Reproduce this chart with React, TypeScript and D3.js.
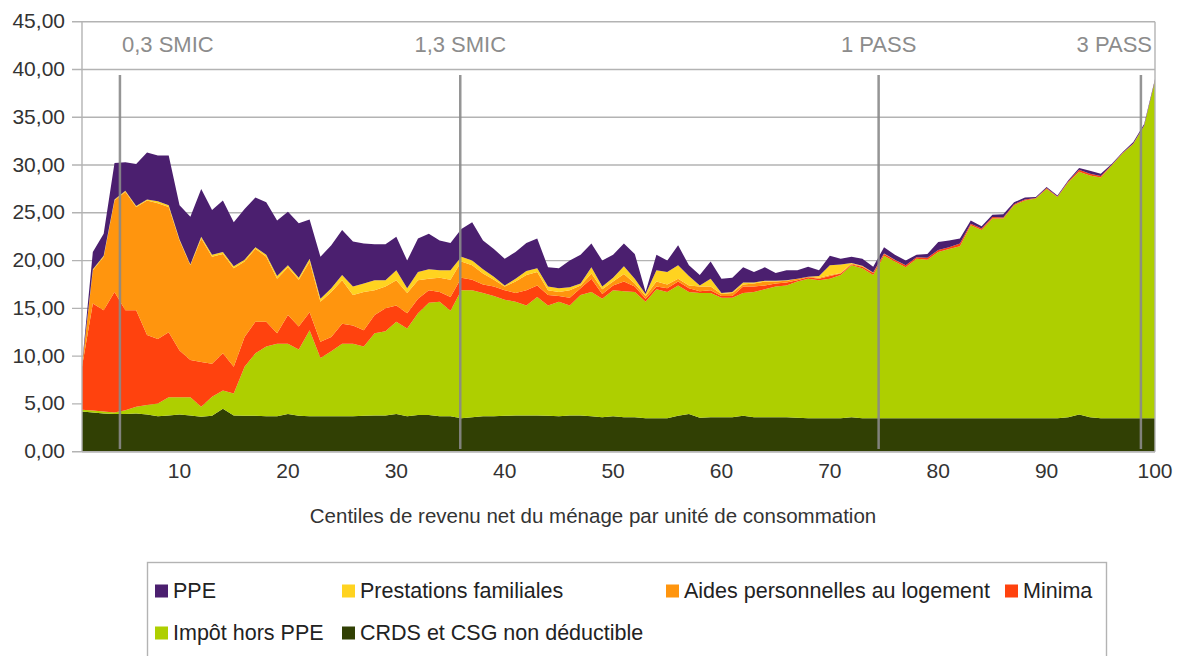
import React, { useRef, useEffect } from 'react';
import * as d3 from 'd3';

// centiles 1..100 on the x axis
const centiles = d3.range(1, 101);

const crds = [
  4.2, 4.1, 4.0, 3.95, 3.95, 4.0, 3.9, 3.7, 3.8, 3.9,
  3.8, 3.65, 3.75, 4.5, 3.8, 3.75, 3.75, 3.7, 3.7, 3.95,
  3.75, 3.7, 3.7, 3.7, 3.7, 3.7, 3.75, 3.8, 3.8, 3.95,
  3.7, 3.85, 3.85, 3.7, 3.7, 3.5, 3.6, 3.7, 3.7, 3.75,
  3.8, 3.8, 3.8, 3.75, 3.7, 3.8, 3.8, 3.7, 3.6, 3.7,
  3.6, 3.6, 3.5, 3.5, 3.5, 3.75, 3.95, 3.55, 3.6, 3.6,
  3.6, 3.75, 3.6, 3.6, 3.6, 3.6, 3.55, 3.5, 3.5, 3.5,
  3.5, 3.6, 3.5, 3.5, 3.5, 3.5, 3.5, 3.5, 3.5, 3.5,
  3.5, 3.5, 3.5, 3.5, 3.5, 3.5, 3.5, 3.5, 3.5, 3.5,
  3.5, 3.6, 3.9, 3.6, 3.5, 3.5, 3.5, 3.5, 3.5, 3.5,
];

const impot = [
  0.2, 0.2, 0.2, 0.15, 0.4, 0.7, 1.0, 1.35, 1.9, 1.8,
  1.9, 1.05, 2.0, 1.9, 2.3, 5.15, 6.55, 7.3, 7.6, 7.35,
  6.95, 9.0, 6.1, 6.8, 7.6, 7.6, 7.25, 8.6, 8.8, 9.65,
  9.2, 10.65, 11.75, 12.0, 11.05, 13.4, 13.3, 12.9, 12.6, 12.15,
  11.9, 11.5, 12.4, 11.55, 12.0, 11.5, 12.6, 13.0, 12.4, 13.2,
  13.2, 13.1, 12.2, 13.5, 13.2, 13.65, 12.75, 13.05, 13.0, 12.5,
  12.5, 12.85, 13.1, 13.4, 13.7, 13.8, 14.25, 14.6, 14.45, 14.6,
  15.0, 15.9, 15.7, 15.0, 17.0, 16.4, 15.8, 16.7, 16.6, 17.4,
  17.7, 18.0, 20.2, 19.7, 20.9, 20.9, 22.3, 22.8, 23.0, 24.0,
  23.15, 24.6, 25.4, 25.3, 25.2, 26.45, 27.7, 28.7, 30.6, 35.3,
];

const minima = [
  4.5, 11.2, 10.6, 12.6, 10.45, 10.1, 7.3, 6.75, 6.8, 4.9,
  3.9, 4.7, 3.45, 3.9, 2.8, 3.1, 3.3, 2.6, 1.1, 3.0,
  2.4, 1.9, 1.7, 1.5, 2.1, 1.9, 1.7, 1.9, 2.4, 1.7,
  1.6, 1.5, 1.3, 1.0, 1.45, 1.3, 1.1, 0.9, 1.0, 1.0,
  0.9, 1.6, 1.2, 1.1, 0.6, 0.8, 0.7, 1.4, 0.5, 0.5,
  1.0, 0.6, 0.3, 0.3, 0.4, 0.4, 0.4, 0.2, 0.3, 0.2,
  0.2, 0.7, 0.6, 0.4, 0.3, 0.3, 0.15, 0.15, 0.15, 0.3,
  0.15, 0.1, 0.15, 0.2, 0.2, 0.15, 0.2, 0.15, 0.2, 0.2,
  0.2, 0.3, 0.15, 0.15, 0.15, 0.1, 0.1, 0.1, 0.05, 0.1,
  0.05, 0.1, 0.2, 0.2, 0.15, 0.05, 0.05, 0.05, 0.05, 0.05,
];

const aides = [
  0.1, 3.5, 5.6, 9.6, 12.4, 10.8, 14.1, 14.2, 13.1, 11.5,
  9.9, 12.9, 11.2, 10.4, 10.3, 7.9, 7.65, 6.8, 5.7, 5.0,
  4.9, 5.3, 4.2, 4.7, 4.55, 3.2, 4.0, 2.6, 2.3, 2.65,
  2.1, 1.95, 1.2, 1.5, 1.8, 1.7, 1.5, 1.15, 0.7, 0.4,
  1.2, 1.6, 1.4, 0.5, 0.4, 0.8, 0.3, 0.55, 0.5, 0.4,
  0.8, 0.3, 0.3, 0.5, 0.4, 0.3, 0.3, 0.5, 0.4, 0.2,
  0.3, 0.2, 0.3, 0.4, 0.2, 0.2, 0.15, 0.05, 0.1, 0.1,
  0.05, 0.1, 0.05, 0.05, 0.05, 0.05, 0, 0, 0, 0,
  0, 0, 0, 0, 0, 0, 0, 0, 0, 0,
  0, 0, 0, 0, 0, 0, 0, 0, 0, 0,
];

const prestations = [
  0, 0.1, 0.1, 0.1, 0.1, 0.1, 0.1, 0.2, 0.2, 0.1,
  0.1, 0.2, 0.2, 0.2, 0.2, 0.2, 0.15, 0.2, 0.3, 0.2,
  0.2, 0.3, 0.3, 0.4, 0.55, 0.9, 0.9, 1.05, 0.65, 1.05,
  0.5, 0.85, 1.0, 0.8, 1.0, 0.5, 0.5, 0.45, 0.3, 0.1,
  0.3, 0.4, 0.4, 0.4, 0.4, 0.3, 0.2, 0.65, 0.3, 0.4,
  0.8, 0.5, 0.2, 1.2, 1.3, 1.4, 1.0, 0.1, 0.8, 0.1,
  0.1, 0.2, 0.1, 0.1, 0.1, 0.05, 0, 0, 0.2, 1.0,
  0.9, 0.05, 0.05, 0, 0, 0, 0, 0, 0, 0,
  0, 0, 0, 0, 0, 0, 0, 0, 0, 0,
  0, 0, 0, 0, 0, 0, 0, 0, 0, 0,
];

const ppe = [
  0.1, 1.8, 2.3, 3.8, 3.0, 4.4, 4.9, 4.8, 5.2, 3.6,
  5.0, 5.0, 4.7, 5.4, 4.6, 5.3, 5.2, 5.5, 5.8, 5.6,
  5.7, 4.1, 4.4, 4.5, 4.7, 4.7, 4.2, 3.75, 3.75, 3.5,
  2.9, 3.5, 3.7, 3.1, 2.85, 2.9, 4.0, 3.0, 2.9, 2.8,
  2.8, 2.95, 3.1, 2.0, 2.1, 2.8, 3.0, 2.5, 2.7, 2.4,
  2.4, 2.6, 0.2, 1.6, 1.2, 2.1, 1.1, 1.1, 1.8, 1.5,
  1.5, 1.6, 1.1, 1.4, 0.8, 1.05, 0.9, 1.05, 0.6, 1.0,
  0.6, 0.65, 0.75, 0.6, 0.65, 0.5, 0.5, 0.25, 0.4, 0.85,
  0.7, 0.5, 0.35, 0.25, 0.25, 0.35, 0.2, 0.2, 0.1, 0.1,
  0.1, 0.1, 0.2, 0.3, 0.25, 0.1, 0.1, 0.15, 0.15, 0.15,
];

// stacking order, bottom to top
const seriesKeys = ['crds', 'impot', 'minima', 'aides', 'prestations', 'ppe'];
const seriesNames = {
  ppe: 'PPE',
  prestations: 'Prestations familiales',
  aides: 'Aides personnelles au logement',
  minima: 'Minima',
  impot: 'Impôt hors PPE',
  crds: 'CRDS et CSG non déductible',
};
const seriesColors = {
  ppe: '#4b1f6f',
  prestations: '#ffd320',
  aides: '#ff950e',
  minima: '#ff420e',
  impot: '#aecf00',
  crds: '#314004',
};

const yTicks = [0, 5, 10, 15, 20, 25, 30, 35, 40, 45];
const xTicks = [10, 20, 30, 40, 50, 60, 70, 80, 90, 100];

const markerLabels = ['0,3 SMIC', '1,3 SMIC', '1 PASS', '3 PASS'];
const markerCentiles = [4.5, 35.9, 74.5, 98.7];

const legendRows = [
  ['ppe', 'prestations', 'aides', 'minima'],
  ['impot', 'crds'],
];

const FONT = '"Liberation Sans", Arial, sans-serif';

const App = () => {
  const svgRef = useRef(null);

  useEffect(() => {
    const svg = d3.select(svgRef.current);
    svg.selectAll('*').remove();

    const left = 82, right = 1155, top = 21.7, bottom = 451.7;

    const x = d3.scaleLinear().domain([1, 100]).range([left, right]);
    const y = d3.scaleLinear().domain([0, 45]).range([bottom, top]);

    const table = centiles.map((c, i) => ({
      c,
      crds: crds[i],
      impot: impot[i],
      minima: minima[i],
      aides: aides[i],
      prestations: prestations[i],
      ppe: ppe[i],
    }));

    const stacked = d3.stack().keys(seriesKeys)(table);

    // grid
    svg.append('g')
      .selectAll('line')
      .data(yTicks)
      .join('line')
      .attr('x1', left - 10)
      .attr('x2', right)
      .attr('y1', d => y(d))
      .attr('y2', d => y(d))
      .attr('stroke', '#b3b3b3')
      .attr('stroke-width', 1.4);

    // areas
    const area = d3.area()
      .x(d => x(d.data.c))
      .y0(d => y(d[0]))
      .y1(d => y(d[1]));

    svg.append('g')
      .selectAll('path')
      .data(stacked)
      .join('path')
      .attr('d', area)
      .attr('fill', d => seriesColors[d.key]);

    // frame
    svg.append('line')
      .attr('x1', left).attr('x2', left)
      .attr('y1', top).attr('y2', bottom)
      .attr('stroke', '#b3b3b3').attr('stroke-width', 1.4);
    svg.append('line')
      .attr('x1', right).attr('x2', right)
      .attr('y1', top).attr('y2', bottom)
      .attr('stroke', '#b3b3b3').attr('stroke-width', 1.4);
    svg.append('line')
      .attr('x1', left).attr('x2', right)
      .attr('y1', bottom).attr('y2', bottom)
      .attr('stroke', '#b3b3b3').attr('stroke-width', 1.4);

    // y labels
    svg.append('g')
      .selectAll('text')
      .data(yTicks)
      .join('text')
      .attr('x', 65)
      .attr('y', d => y(d) - 1)
      .attr('text-anchor', 'end')
      .attr('dominant-baseline', 'central')
      .attr('font-family', FONT)
      .attr('font-size', 21)
      .attr('fill', '#333')
      .text(d => d3.format('.2f')(d).replace('.', ','));

    // x labels
    svg.append('g')
      .selectAll('text')
      .data(xTicks)
      .join('text')
      .attr('x', d => x(d))
      .attr('y', 477.5)
      .attr('text-anchor', 'middle')
      .attr('font-family', FONT)
      .attr('font-size', 21)
      .attr('fill', '#333')
      .text(d => d);

    svg.append('text')
      .attr('x', 593)
      .attr('y', 523)
      .attr('text-anchor', 'middle')
      .attr('font-family', FONT)
      .attr('font-size', 20.5)
      .attr('fill', '#333')
      .text('Centiles de revenu net du ménage par unité de consommation');

    // threshold markers
    const markers = svg.append('g');
    markerLabels.forEach((label, i) => {
      const mx = x(markerCentiles[i]);
      markers.append('line')
        .attr('x1', mx).attr('x2', mx)
        .attr('y1', 75).attr('y2', 449)
        .attr('stroke', '#8a8a8a')
        .attr('stroke-width', 2.5)
        .attr('opacity', 0.9);
      const t = markers.append('text')
        .attr('y', 51.5)
        .attr('font-family', FONT)
        .attr('font-size', 22)
        .attr('fill', '#8c8c8c')
        .text(label);
      const w = t.node().getComputedTextLength();
      const start = Math.min(Math.max(mx - w / 2, left + 40), right - 3 - w);
      t.attr('x', start);
    });

    // legend
    const legend = svg.append('g');
    legend.append('rect')
      .attr('x', 147.5).attr('y', 562.5)
      .attr('width', 959).attr('height', 130)
      .attr('fill', 'white')
      .attr('stroke', '#b3b3b3')
      .attr('stroke-width', 1.4);

    const colX = [155, 342, 666, 1005];
    const rowY = [591, 633];
    legendRows.forEach((row, r) => {
      row.forEach((key, k) => {
        const g = legend.append('g')
          .attr('transform', `translate(${colX[k]},${rowY[r]})`);
        g.append('rect')
          .attr('x', 0).attr('y', -6.5)
          .attr('width', 13).attr('height', 13)
          .attr('fill', seriesColors[key]);
        g.append('text')
          .attr('x', 18).attr('y', 0)
          .attr('dominant-baseline', 'central')
          .attr('font-family', FONT)
          .attr('font-size', 21.5)
          .attr('fill', '#222')
          .text(seriesNames[key]);
      });
    });
  }, []);

  return (
    <svg
      ref={svgRef}
      width={1181}
      height={656}
      style={{ position: 'absolute', left: 0, top: 0, background: 'white' }}
    />
  );
};

export default App;
